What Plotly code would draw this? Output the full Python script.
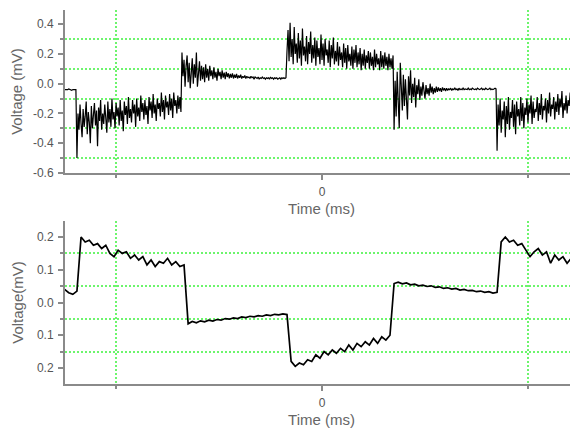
import numpy as np
import plotly.graph_objects as go

# ---------------- data ----------------
# Top panel: voltage (mV), sampled every 0.005 time unit from -1.25
top_voltage = [
    # baseline before first step
    -0.04, -0.04, -0.045, -0.04, -0.035, -0.04, -0.04, -0.045, -0.04, -0.04, -0.035, -0.04,
    # negative noisy plateau
    -0.50, -0.20, -0.31, -0.14, -0.27, -0.36, -0.17, -0.29, -0.22, -0.12,
    -0.34, -0.19, -0.26, -0.40, -0.15, -0.30, -0.21, -0.13, -0.28, -0.18,
    -0.42, -0.16, -0.25, -0.11, -0.31, -0.20, -0.27, -0.14, -0.23, -0.33,
    -0.12, -0.26, -0.17, -0.29, -0.10, -0.24, -0.19, -0.30, -0.13, -0.22,
    -0.16, -0.28, -0.11, -0.25, -0.18, -0.32, -0.12, -0.21, -0.15, -0.27,
    -0.09, -0.23, -0.17, -0.26, -0.11, -0.20, -0.14, -0.29, -0.10, -0.22,
    -0.16, -0.25, -0.08, -0.19, -0.13, -0.24, -0.11, -0.21, -0.15, -0.27,
    -0.09, -0.18, -0.12, -0.23, -0.07, -0.20, -0.14, -0.25, -0.10, -0.17,
    -0.13, -0.22, -0.06, -0.19, -0.11, -0.24, -0.08, -0.16, -0.12, -0.21,
    -0.07, -0.18, -0.10, -0.23, -0.06, -0.15, -0.11, -0.20, -0.08, -0.17,
    -0.09, -0.19,
    # small positive plateau with ringing
    0.21, 0.05, 0.16, -0.02, 0.12, 0.19, 0.01, 0.14, -0.03, 0.09,
    0.17, 0.00, 0.13, 0.04, 0.21, -0.02, 0.10, 0.15, 0.02, 0.12,
    0.03, 0.11, 0.01, 0.13, 0.04, 0.10, 0.02, 0.12, 0.05, 0.09,
    0.03, 0.11, 0.04, 0.08, 0.02, 0.10, 0.05, 0.08, 0.03, 0.09,
    0.04, 0.075, 0.03, 0.08, 0.045, 0.07, 0.035, 0.065, 0.04, 0.07,
    0.035, 0.06, 0.04, 0.065, 0.035, 0.055, 0.04, 0.06, 0.035, 0.05,
    0.04, 0.055, 0.035, 0.05, 0.04, 0.045, 0.035, 0.05, 0.04, 0.045,
    0.03, 0.045, 0.04, 0.035, 0.045, 0.03, 0.04, 0.035, 0.045, 0.035,
    0.04, 0.03, 0.04, 0.035, 0.04, 0.03, 0.045, 0.035, 0.04, 0.03,
    0.04, 0.035, 0.04, 0.03, 0.035, 0.04, 0.03, 0.04, 0.035, 0.04,
    0.035, 0.04,
    # high positive noisy plateau
    0.22, 0.36, 0.15, 0.41, 0.18, 0.30, 0.13, 0.38, 0.20, 0.27,
    0.14, 0.34, 0.17, 0.29, 0.12, 0.37, 0.19, 0.25, 0.15, 0.32,
    0.13, 0.28, 0.20, 0.35, 0.14, 0.26, 0.17, 0.31, 0.12, 0.29,
    0.18, 0.24, 0.13, 0.33, 0.16, 0.27, 0.12, 0.30, 0.19, 0.23,
    0.14, 0.29, 0.11, 0.26, 0.17, 0.31, 0.13, 0.22, 0.15, 0.28,
    0.12, 0.25, 0.16, 0.21, 0.11, 0.27, 0.14, 0.24, 0.10, 0.26,
    0.15, 0.20, 0.12, 0.25, 0.10, 0.23, 0.14, 0.26, 0.11, 0.21,
    0.13, 0.24, 0.09, 0.20, 0.12, 0.23, 0.10, 0.19, 0.14, 0.22,
    0.10, 0.21, 0.12, 0.18, 0.09, 0.23, 0.11, 0.20, 0.13, 0.17,
    0.09, 0.22, 0.11, 0.19, 0.10, 0.21, 0.12, 0.18, 0.09, 0.20,
    0.11, 0.17, 0.10, 0.19,
    # small negative plateau with ringing
    -0.31, 0.02, -0.22, 0.08, -0.12, -0.30, 0.14, -0.05, -0.18, 0.06,
    -0.15, 0.03, -0.10, -0.24, 0.05, -0.08, 0.09, -0.13, 0.00, -0.09,
    0.04, -0.16, -0.01, -0.07, 0.03, -0.11, -0.02, -0.08, 0.01, -0.06,
    -0.10, -0.01, -0.07, -0.03, -0.08, 0.00, -0.06, -0.02, -0.07, -0.03,
    -0.06, -0.02, -0.055, -0.025, -0.05, -0.03, -0.055, -0.025, -0.045, -0.03,
    -0.05, -0.03, -0.045, -0.035, -0.04, -0.03, -0.045, -0.035, -0.04, -0.03,
    -0.04, -0.035, -0.045, -0.03, -0.04, -0.035, -0.04, -0.03, -0.04, -0.035,
    -0.035, -0.04, -0.03, -0.04, -0.035, -0.04, -0.03, -0.035, -0.04, -0.035,
    -0.04, -0.03, -0.035, -0.04, -0.035, -0.03, -0.04, -0.035, -0.04, -0.03,
    -0.035, -0.04, -0.035, -0.03, -0.04, -0.035, -0.04, -0.035, -0.03, -0.035,
    # negative noisy plateau again
    -0.45, -0.14, -0.28, -0.10, -0.33, -0.18, -0.24, -0.12, -0.36, -0.15,
    -0.27, -0.09, -0.31, -0.19, -0.23, -0.11, -0.29, -0.14, -0.34, -0.12,
    -0.22, -0.17, -0.28, -0.09, -0.25, -0.13, -0.30, -0.16, -0.21, -0.10,
    -0.26, -0.14, -0.20, -0.08, -0.27, -0.12, -0.23, -0.17, -0.19, -0.09,
    -0.25, -0.13, -0.21, -0.07, -0.24, -0.15, -0.18, -0.10, -0.26, -0.11,
    -0.20, -0.06, -0.22, -0.14, -0.17, -0.09, -0.24, -0.12, -0.19, -0.07,
    -0.21, -0.10, -0.16, -0.05, -0.23, -0.13, -0.18, -0.08, -0.20, -0.11,
    -0.15, -0.06, -0.22, -0.09, -0.17, -0.12, -0.19, -0.07, -0.21, -0.10,
    -0.16,
]

# Bottom panel: voltage (mV), sampled every 0.02 time unit from -1.25
bottom_voltage = [
    0.04, 0.03, 0.025, 0.035,
    0.20, 0.185, 0.19, 0.175, 0.18, 0.165, 0.175, 0.15, 0.14, 0.16,
    0.15, 0.155, 0.135, 0.145, 0.13, 0.14, 0.115, 0.13, 0.11, 0.125,
    0.12, 0.135, 0.115, 0.125, 0.11, 0.115,
    -0.065, -0.058, -0.062, -0.056, -0.059, -0.054, -0.057, -0.052, -0.054, -0.049,
    -0.051, -0.047, -0.049, -0.044, -0.046, -0.042, -0.044, -0.040, -0.042, -0.038,
    -0.040, -0.036, -0.038, -0.035, -0.037,
    -0.18, -0.195, -0.185, -0.19, -0.175, -0.18, -0.16, -0.17, -0.15, -0.16,
    -0.145, -0.155, -0.14, -0.15, -0.13, -0.145, -0.125, -0.135, -0.12, -0.13,
    -0.11, -0.125, -0.105, -0.115, -0.10,
    0.058, 0.062, 0.057, 0.060, 0.054, 0.056, 0.051, 0.053, 0.049, 0.051,
    0.046, 0.048, 0.043, 0.045, 0.041, 0.043, 0.038, 0.040, 0.036, 0.037,
    0.033, 0.035, 0.031, 0.033, 0.029, 0.031,
    0.185, 0.20, 0.185, 0.19, 0.175, 0.18, 0.16, 0.14, 0.155, 0.165,
    0.145, 0.155, 0.12, 0.145, 0.13, 0.14, 0.12, 0.135, 0.11, 0.125,
]

top_start, top_step = -1.25, 0.005
bottom_start, bottom_step = -1.25, 0.02
top_time = top_start + top_step * np.arange(len(top_voltage))
bottom_time = bottom_start + bottom_step * np.arange(len(bottom_voltage))

x_tick_vals = [0]
x_tick_text = ["0"]
x_minor_vals = [-1, 1]

top_tick_vals = [0.4, 0.2, 0.0, -0.2, -0.4, -0.6]
top_tick_text = ["0.4", "0.2", "0.0", "-0.2", "-0.4", "-0.6"]
top_minor_vals = [0.3, 0.1, -0.1, -0.3, -0.5]

bottom_tick_vals = [0.2, 0.1, 0.0, -0.1, -0.2]
bottom_tick_text = ["0.2", "0.1", "0.0", "0.1", "0.2"]
bottom_minor_vals = [0.15, 0.05, -0.05, -0.15]

# ---------------- styling ----------------
FONT = "Liberation Sans, Arial, sans-serif"
AXIS_COLOR = "#8a8a8a"
GRID_COLOR = "#6cf56c"
TICK_FONT = dict(family=FONT, size=12, color="#555555")
TITLE_FONT = dict(family=FONT, size=15, color="#666666")

fig = go.Figure()
fig.add_trace(go.Scatter(x=top_time, y=top_voltage, mode="lines",
                         line=dict(color="black", width=1.2),
                         xaxis="x", yaxis="y", showlegend=False))
fig.add_trace(go.Scatter(x=bottom_time, y=bottom_voltage, mode="lines",
                         line=dict(color="black", width=1.7),
                         xaxis="x2", yaxis="y2", showlegend=False))


def xaxis_cfg(anchor):
    return dict(
        anchor=anchor, domain=[0, 1], range=[-1.248, 1.243], automargin=False,
        tickmode="array", tickvals=x_tick_vals, ticktext=x_tick_text,
        ticks="outside", ticklen=5, tickwidth=1.5, tickcolor=AXIS_COLOR,
        showline=True, linecolor=AXIS_COLOR, linewidth=2,
        showgrid=False, zeroline=False, tickfont=TICK_FONT,
        ticklabelstandoff=2,
        minor=dict(tickmode="array", tickvals=x_minor_vals, ticks="outside",
                   ticklen=3, tickcolor=AXIS_COLOR, showgrid=True,
                   gridcolor=GRID_COLOR, gridwidth=2, griddash="2px,2px"),
        title=dict(text="Time (ms)", font=TITLE_FONT, standoff=5),
    )


def yaxis_cfg(anchor, domain, rng, tv, tt, mv, title):
    return dict(
        anchor=anchor, domain=domain, range=rng, automargin=False,
        tickmode="array", tickvals=tv, ticktext=tt,
        ticks="outside", ticklen=5, tickwidth=1.5, tickcolor=AXIS_COLOR,
        showline=True, linecolor=AXIS_COLOR, linewidth=2,
        showgrid=False, zeroline=False, tickfont=TICK_FONT,
        ticklabelstandoff=2,
        minor=dict(tickmode="array", tickvals=mv, ticks="outside",
                   ticklen=3, tickcolor=AXIS_COLOR, showgrid=True,
                   gridcolor=GRID_COLOR, gridwidth=2, griddash="2px,2px"),
        title=dict(text=title, font=TITLE_FONT, standoff=10),
    )


# The page body has an 8px default margin, so the figure is sized and
# its margins offset to place the plot areas where the reference has them.
fig.update_layout(
    width=570, height=420,
    margin=dict(l=57, r=0, t=2, b=44),
    paper_bgcolor="white", plot_bgcolor="white",
    xaxis=xaxis_cfg("y"),
    yaxis=yaxis_cfg("x", [0.5642, 1.0], [-0.6, 0.495],
                    top_tick_vals, top_tick_text, top_minor_vals, "Voltage (mV)"),
    xaxis2=xaxis_cfg("y2"),
    yaxis2=yaxis_cfg("x2", [0.0, 0.4358], [-0.249, 0.249],
                     bottom_tick_vals, bottom_tick_text, bottom_minor_vals, "Voltage(mV)"),
)

fig.write_html("out.html")
